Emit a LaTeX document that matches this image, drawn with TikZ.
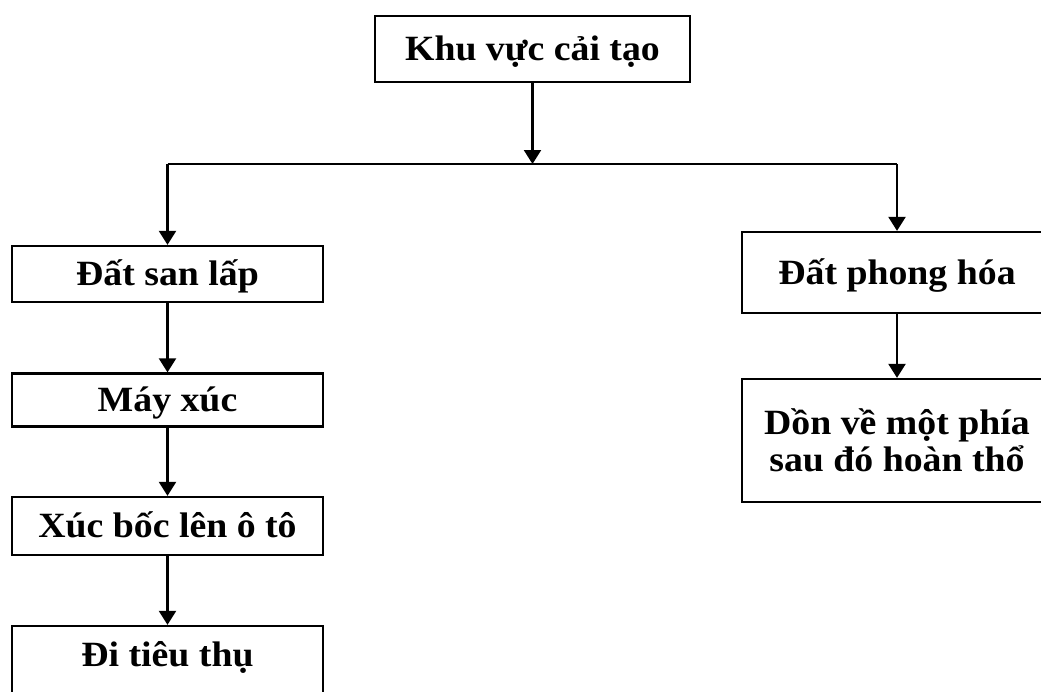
\documentclass[tikz,border=0pt]{standalone}
\usepackage{fontspec}
\setmainfont{Liberation Serif}[FakeStretch=1.065]
\usetikzlibrary{arrows.meta}
\begin{document}
\begin{tikzpicture}[x=1pt,y=-1pt,
  box/.style={draw,line width=2.3pt,inner sep=0pt,minimum width=311pt,font=\fontsize{35.5}{37}\selectfont\bfseries,text height=23pt,text depth=0pt},
  conn/.style={line width=2.3pt,-{Triangle[length=14pt,width=17pt]}},
  seg/.style={line width=2.3pt}]
\useasboundingbox (0,0) rectangle (1041,691);
\clip (0,0) rectangle (1041,691);
\node[box,minimum width=315pt,minimum height=66pt] (top) at (532.5,49) {Khu vực cải tạo};
\node[box,minimum height=56pt] (san) at (167.5,274) {Đất san lấp};
\node[box,minimum height=53pt] (may) at (167.5,400) {Máy xúc};
\node[box,minimum height=58pt] (xuc) at (167.5,526) {Xúc bốc lên ô tô};
\node[box,minimum height=97pt,text depth=40pt] (di) at (167.5,674.5) {Đi tiêu thụ};
\node[box,minimum width=310pt,minimum height=81pt] (phong) at (897,272.5) {Đất phong hóa};
\node[box,minimum width=310pt,minimum height=123pt,align=center,text height=,text depth=] (don) at (897,440.5) {Dồn về một phía\\sau đó hoàn thổ};
\coordinate (j) at (top.south |- 0,164);
\coordinate (jl) at (san.north |- j);
\coordinate (jr) at (phong.north |- j);
\draw[conn] (top.south) -- (j);
\draw[seg] (jl) -- (jr);
\draw[conn] (jl) -- (san.north);
\draw[conn] (jr) -- (phong.north);
\draw[conn] (san.south) -- (may.north);
\draw[conn] (may.south) -- (xuc.north);
\draw[conn] (xuc.south) -- (di.north);
\draw[conn] (phong.south) -- (don.north);
\end{tikzpicture}
\end{document}
